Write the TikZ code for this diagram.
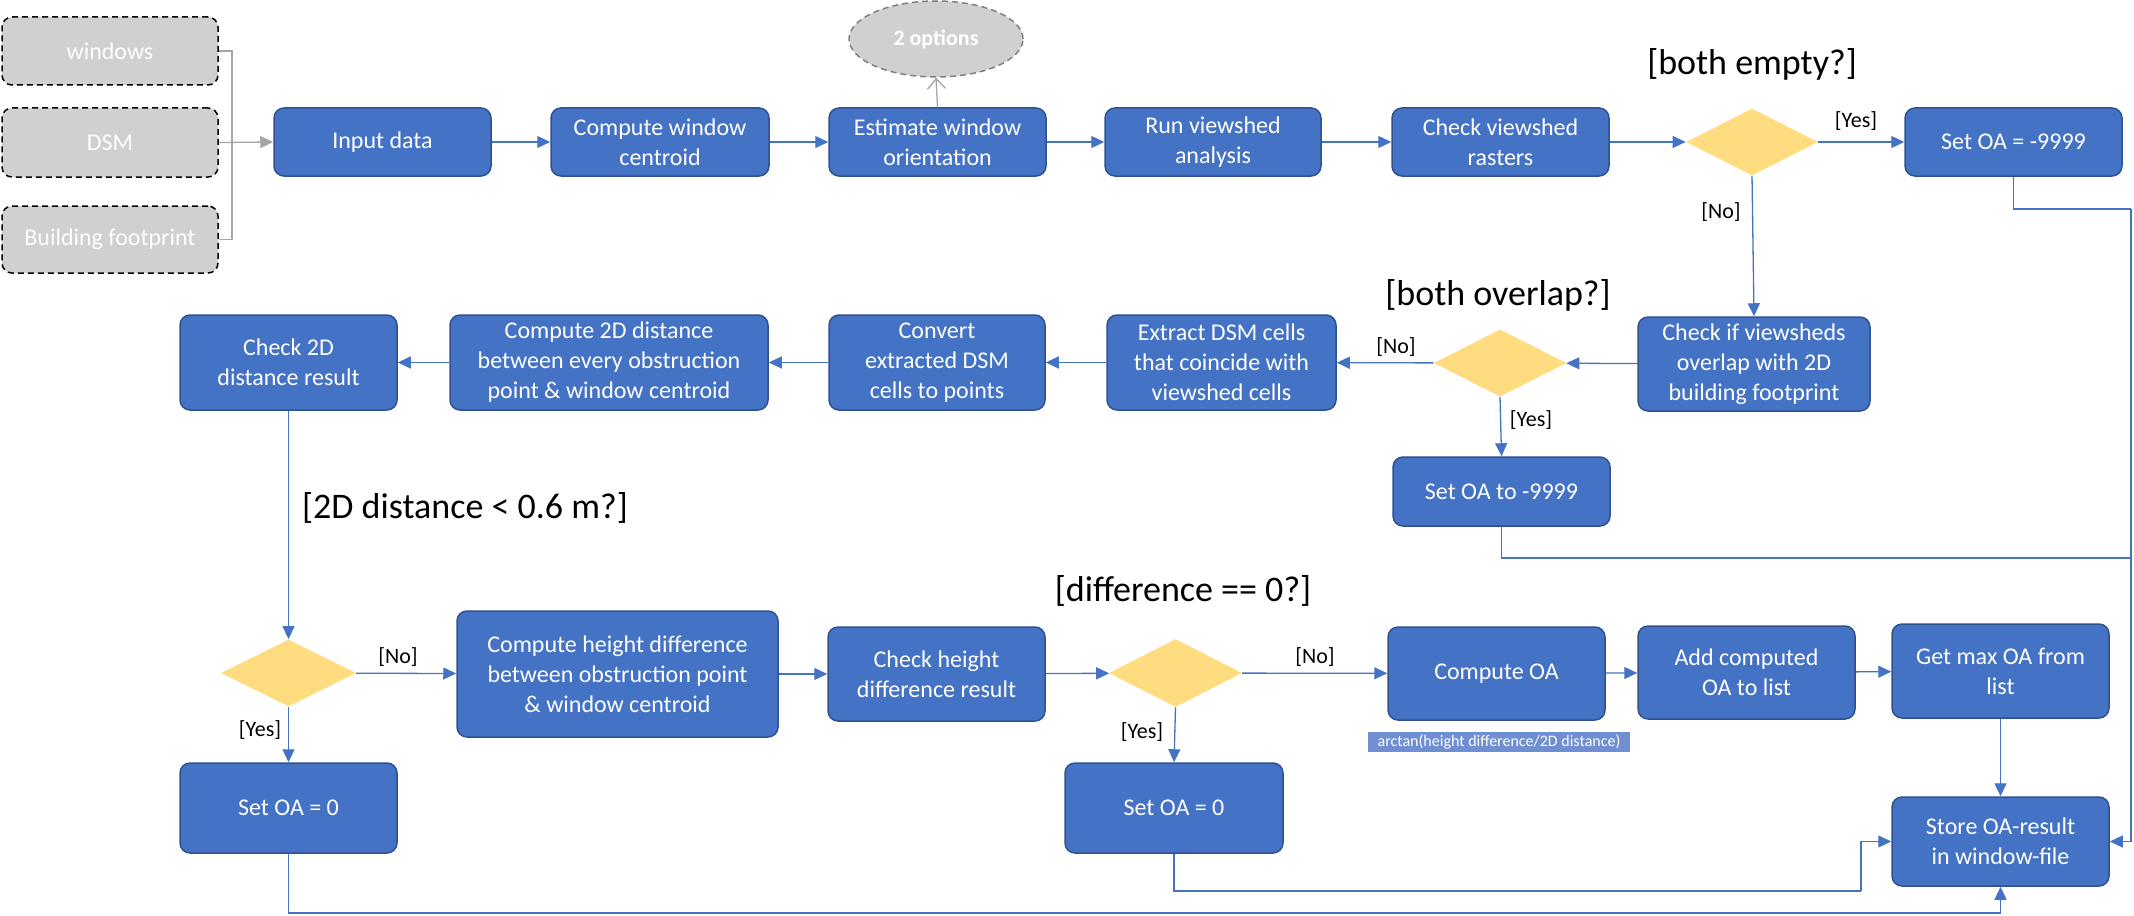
\documentclass[tikz,border=0pt]{standalone}
\usepackage{fontspec}
\setmainfont{Carlito}
\usetikzlibrary{shapes.geometric,arrows.meta}
\definecolor{bfill}{HTML}{4472C4}
\definecolor{bdraw}{HTML}{2F528F}
\definecolor{gfill}{HTML}{D0D0D0}
\definecolor{dfill}{HTML}{FFDC7F}
\definecolor{lfill}{HTML}{6F8FD2}
\definecolor{glink}{HTML}{A6A6A6}
\begin{document}
\begin{tikzpicture}[x=0.5pt,y=-0.5pt,
  sz/.style 2 args={minimum width=#1*0.5pt, minimum height=#2*0.5pt},
  box/.style={draw=bdraw,fill=bfill,line width=0.75pt,rounded corners=5pt,text=white,align=center,inner sep=0pt,font=\fontsize{12}{15}\selectfont},
  inbox/.style={draw=black,fill=gfill,line width=0.75pt,dash pattern=on 3pt off 2pt,rounded corners=5pt,text=white,align=center,inner sep=0pt,font=\fontsize{12}{15}\selectfont},
  dec/.style={diamond,fill=dfill,draw=none,inner sep=0pt},
  optnode/.style={ellipse,draw=gray,fill=gfill,line width=0.75pt,dash pattern=on 3pt off 2pt,text=white,inner sep=0pt,font=\fontsize{11}{13}\selectfont\bfseries},
  lbl/.style={inner sep=0pt,font=\fontsize{11}{13}\selectfont},
  biglbl/.style={inner sep=0pt,font=\fontsize{18}{22}\selectfont},
  note/.style={fill=lfill,text=white,inner sep=0pt,font=\fontsize{8}{10}\selectfont},
  flow/.style={draw=bfill,line width=0.65pt,-{Triangle[length=6.5pt,width=6pt]}},
  plain/.style={draw=bfill,line width=0.65pt},
  glinkst/.style={draw=glink,line width=0.65pt},
]
\useasboundingbox (0,0) rectangle (2134,915);

% inputs
\node[inbox,sz={216}{68}] (win) at (110,51) {windows};
\node[inbox,sz={216}{69}] (dsm) at (110,142.5) {DSM};
\node[inbox,sz={216}{67}] (bfp) at (110,239.5) {Building footprint};

% top row
\node[box,sz={217}{68}] (input) at (382.5,142) {Input data};
\node[box,sz={218}{68}] (ccent) at (660,142) {Compute window\\centroid};
\node[box,sz={217}{68}] (est) at (937.5,142) {Estimate window\\orientation};
\node[optnode,sz={174}{76}] (opt) at (936,39) {2 options};
\node[box,sz={216}{68}] (run) at (1213,142) {Run viewshed\\analysis};
\node[box,sz={217}{68}] (chk) at (1500.5,142) {Check viewshed\\rasters};
\node[dec,sz={132}{67}] (d1) at (1752,142) {};
\node[box,sz={217}{68}] (set1) at (2013.5,142) {Set OA = -9999};

% second row
\node[box,sz={232}{94}] (ovl) at (1754,364) {Check if viewsheds\\overlap with 2D\\building footprint};
\node[dec,sz={133}{67}] (d2) at (1500,363) {};
\node[box,sz={217}{69}] (setm) at (1501.5,491.5) {Set OA to -9999};
\node[box,sz={229}{95}] (ext) at (1221.5,362.5) {Extract DSM cells\\that coincide with\\viewshed cells};
\node[box,sz={216}{95}] (conv) at (937,362.5) {Convert\\extracted DSM\\cells to points};
\node[box,sz={318}{95}] (c2d) at (609,362.5) {Compute 2D distance\\between every obstruction\\point \& window centroid};
\node[box,sz={217}{95}] (chk2d) at (288.5,362.5) {Check 2D\\distance result};

% third row
\node[dec,sz={135}{67}] (d3) at (288.5,673) {};
\node[box,sz={217}{90}] (setz1) at (288.5,808) {Set OA = 0};
\node[box,sz={321}{126}] (hdiff) at (617.5,674) {Compute height difference\\between obstruction point\\\& window centroid};
\node[box,sz={217}{94}] (chkh) at (936.5,674) {Check height\\difference result};
\node[dec,sz={133}{68}] (d4) at (1175.5,673) {};
\node[box,sz={218}{90}] (setz2) at (1174,808) {Set OA = 0};
\node[box,sz={217}{93}] (coa) at (1496.5,673.5) {Compute OA};
\node[note,sz={262}{20}] (arct) at (1499,742) {arctan(height difference/2D distance)};
\node[box,sz={217}{93}] (add) at (1746.5,672.5) {Add computed\\OA to list};
\node[box,sz={217}{94}] (maxoa) at (2000.5,671) {Get max OA from\\list};
\node[box,sz={217}{89}] (store) at (2000.5,841.5) {Store OA-result\\in window-file};

% labels
\node[biglbl] (q1) at (1752,64) {[both empty?]};
\node[lbl] (y1) at (1856,121) {[Yes]};
\node[lbl] (n1) at (1721,212) {[No]};
\node[biglbl] (q2) at (1498,295) {[both overlap?]};
\node[lbl] (n2) at (1396,347) {[No]};
\node[lbl] (y2) at (1531,420) {[Yes]};
\node[biglbl] (q3) at (465,508) {[2D distance < 0.6 m?]};
\node[lbl] (n3) at (398,657) {[No]};
\node[lbl] (y3) at (260,730) {[Yes]};
\node[biglbl] (q4) at (1183,591) {[difference == 0?]};
\node[lbl] (n4) at (1315,657) {[No]};
\node[lbl] (y4) at (1142,732) {[Yes]};

% helper coordinates
\coordinate (j) at (232,142.5);
\coordinate (c1) at (2131,209);
\coordinate (c2) at (2131,558);
\coordinate (c3) at (1861,891);
\coordinate (c4) at (2000.5,913);

% gray input links
\draw[glinkst] (win.east) -| (j) |- (bfp.east);
\draw[glinkst,-{Triangle[length=6.5pt,width=6pt]}] (dsm.east) -- (input.west);
\draw[glinkst,-{Straight Barb[length=5pt,width=9pt]}] (est.north) -- (opt.south);

% top row flow
\draw[flow] (input) -- (ccent);
\draw[flow] (ccent) -- (est);
\draw[flow] (est) -- (run);
\draw[flow] (run) -- (chk);
\draw[flow] (chk) -- (d1);
\draw[flow] (d1) -- (set1);
\draw[flow] (d1.south) -- (ovl.north);
\draw[plain] (set1.south) |- (c1);
\draw[flow] (c1) |- (store.east);

% second row
\draw[flow] (ovl) -- (d2);
\draw[flow] (d2) -- (ext);
\draw[flow] (d2.south) -- (setm.north);
\draw[plain] (setm.south) |- (c2);
\draw[flow] (ext) -- (conv);
\draw[flow] (conv) -- (c2d);
\draw[flow] (c2d) -- (chk2d);
\draw[flow] (chk2d.south) -- (d3.north);

% third row
\draw[flow] (d3) -- (hdiff);
\draw[flow] (d3.south) -- (setz1.north);
\draw[flow] (hdiff) -- (chkh);
\draw[flow] (chkh) -- (d4);
\draw[flow] (d4) -- (coa);
\draw[flow] (d4.south) -- (setz2.north);
\draw[flow] (coa) -- (add);
\draw[flow] (add) -- (maxoa);
\draw[flow] (maxoa) -- (store);
\draw[plain] (setz2.south) |- (c3);
\draw[flow] (c3) |- (store.west);
\draw[plain] (setz1.south) |- (c4);
\draw[flow] (c4) -- (store.south);
\end{tikzpicture}
\end{document}
